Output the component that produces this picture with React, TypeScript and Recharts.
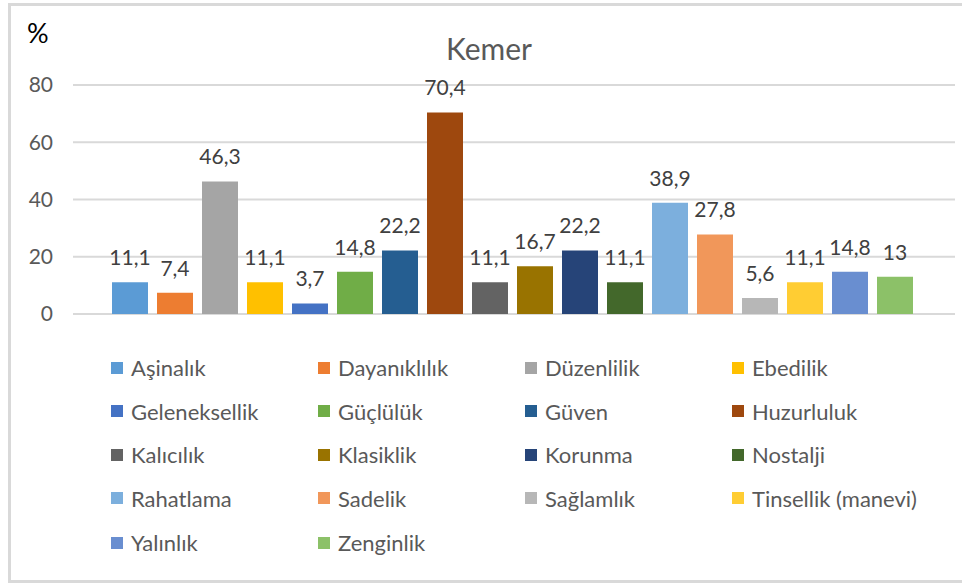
import React from "react";
import { BarChart, Bar, XAxis, YAxis, CartesianGrid, LabelList, Legend } from "recharts";

const categories = ["Kemer"];
const seriesNames = [
  "Aşinalık", "Dayanıklılık", "Düzenlilik", "Ebedilik",
  "Geleneksellik", "Güçlülük", "Güven", "Huzurluluk",
  "Kalıcılık", "Klasiklik", "Korunma", "Nostalji",
  "Rahatlama", "Sadelik", "Sağlamlık", "Tinsellik (manevi)",
  "Yalınlık", "Zenginlik",
];
const seriesValues = [11.1, 7.4, 46.3, 11.1, 3.7, 14.8, 22.2, 70.4, 11.1, 16.7, 22.2, 11.1, 38.9, 27.8, 5.6, 11.1, 14.8, 13];
const seriesColors = [
  "#5B9BD5", "#ED7D31", "#A5A5A5", "#FFC000",
  "#4472C4", "#70AD47", "#255E91", "#9E480E",
  "#636363", "#997300", "#264478", "#43682B",
  "#7CAFDD", "#F1975A", "#B7B7B7", "#FFCD33",
  "#698ED0", "#8CC168",
];
const yTicks = [0, 20, 40, 60, 80];

const data = categories.map((c) => {
  const row: Record<string, any> = { name: c };
  seriesValues.forEach((v, i) => {
    row[`s${i}`] = v;
  });
  return row;
});

const FONT = "Lato, 'Open Sans', sans-serif";
const fmt = (v: any) => String(v).replace(".", ",");

const LEGEND_TOP = 340;
const colX = [111, 318, 525, 732];
const rowY = [367.5, 411, 454.5, 498, 542.5];

const LegendContent = (props: any) => {
  const payload = props.payload || [];
  const items = seriesNames.map((n, i) => {
    const p = payload.find((e: any) => e.value === n);
    return { name: n, color: p ? p.color : seriesColors[i] };
  });
  return (
    <div style={{ position: "relative", width: 962, height: 243 }}>
      {items.map((it, i) => {
        const c = i % 4;
        const r = Math.floor(i / 4);
        return (
          <div
            key={it.name}
            style={{
              position: "absolute",
              left: colX[c],
              top: rowY[r] - LEGEND_TOP - 12,
              height: 24,
              display: "flex",
              alignItems: "center",
              whiteSpace: "nowrap",
              fontFamily: FONT,
              fontSize: 22,
              color: "#595959",
            }}
          >
            <span style={{ display: "inline-block", width: 12, height: 12, background: it.color, marginRight: 8 }} />
            <span>{it.name}</span>
          </div>
        );
      })}
    </div>
  );
};

export default function App() {
  return (
    <div style={{ position: "absolute", left: 0, top: 0, width: 962, height: 583, background: "#fff", overflow: "hidden" }}>
      <div
        style={{
          position: "absolute",
          left: 8,
          top: 3,
          width: 962,
          height: 580,
          border: "3px solid #d9d9d9",
          boxSizing: "border-box",
        }}
      />
      <div
        style={{
          position: "absolute",
          left: 27,
          top: 17,
          fontFamily: FONT,
          fontSize: 27,
          lineHeight: "32px",
          color: "#000",
        }}
      >
        %
      </div>
      <div
        style={{
          position: "absolute",
          left: 389,
          width: 200,
          top: 30,
          textAlign: "center",
          fontFamily: FONT,
          fontSize: 30,
          lineHeight: "36px",
          color: "#595959",
        }}
      >
        Kemer
      </div>
      <div style={{ position: "absolute", left: 0, top: 0 }}>
        <BarChart
          width={962}
          height={583}
          data={data}
          margin={{ top: 85, right: 7, bottom: 269, left: 13 }}
          barCategoryGap={39}
          barGap={9}
        >
          <CartesianGrid vertical={false} stroke="#d9d9d9" strokeWidth={2} />
          <XAxis dataKey="name" hide />
          <YAxis
            width={60}
            domain={[0, 80]}
            ticks={yTicks}
            axisLine={false}
            tickLine={false}
            tickSize={0}
            tickMargin={20}
            tick={{ fill: "#595959", fontSize: 21, fontFamily: FONT }}
          />
          <Legend
            layout="horizontal"
            verticalAlign="middle"
            align="center"
            wrapperStyle={{ position: "absolute", left: 0, top: LEGEND_TOP, width: 962, height: 243 }}
            content={<LegendContent />}
          />
          {seriesNames.map((n, i) => (
            <Bar key={n} dataKey={`s${i}`} name={n} fill={seriesColors[i]} isAnimationActive={false}>
              <LabelList
                dataKey={`s${i}`}
                position="top"
                offset={17}
                formatter={fmt}
                fill="#404040"
                fontSize={21}
                fontFamily={FONT}
              />
            </Bar>
          ))}
        </BarChart>
      </div>
    </div>
  );
}
